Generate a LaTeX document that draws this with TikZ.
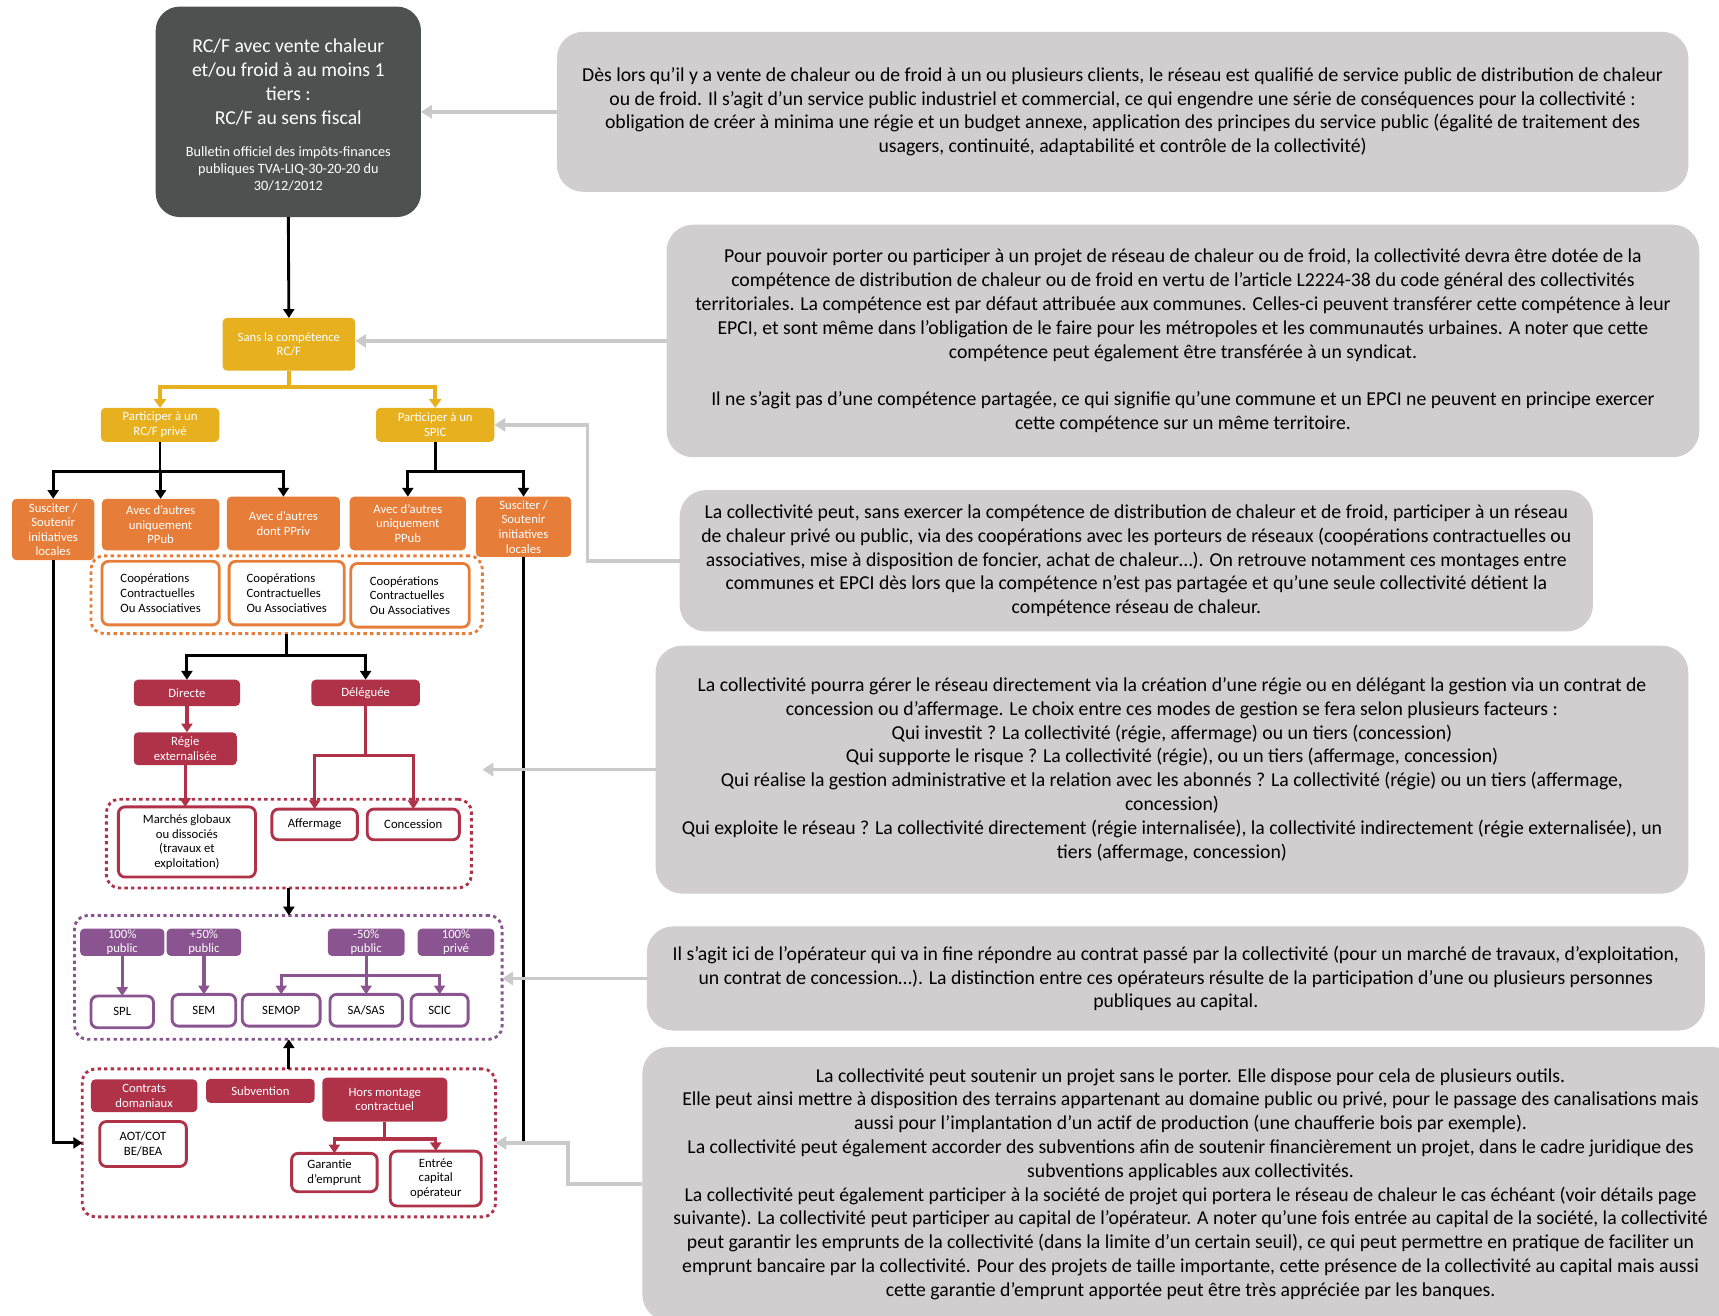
\documentclass[tikz,border=0pt]{standalone}
\usepackage{fontspec}
\setmainfont{Carlito}
\usetikzlibrary{arrows.meta}
\definecolor{darkbox}{HTML}{4F5150}
\definecolor{lgray}{HTML}{D0CECE}
\definecolor{garrow}{HTML}{CACACA}
\definecolor{yel}{HTML}{E6B01E}
\definecolor{org}{HTML}{E67E3A}
\definecolor{crim}{HTML}{B03249}
\definecolor{purp}{HTML}{895490}
\newcommand\fsm{\fontsize{11.6}{13.3}\selectfont}
\newcommand\fgr{\fontsize{18}{21.7}\selectfont}
\begin{document}
\begin{tikzpicture}[x=1pt,y=-1pt,
  sz/.style 2 args={minimum width=#1pt, minimum height=#2pt},
  box/.style={inner sep=0pt, outer sep=0pt, align=center, font=\fsm, text=white, rounded corners=4pt},
  yb/.style={box, fill=yel},
  ob/.style={box, fill=org},
  cb/.style={box, fill=crim},
  pb/.style={box, fill=purp},
  wb/.style={box, fill=white, text=black, line width=2.6pt, rounded corners=6pt},
  owb/.style={wb, draw=org},
  cwb/.style={wb, draw=crim},
  pwb/.style={wb, draw=purp},
  cont/.style={inner sep=0pt, outer sep=0pt, line width=2.6pt, dash pattern=on 3pt off 3pt, rounded corners=12pt},
  gb/.style={inner sep=0pt, outer sep=0pt, fill=lgray, rounded corners=24pt, align=center, font=\fgr, text=black},
  barr/.style={draw=black, line width=2.6pt, -{Triangle[width=10pt,length=8pt]}},
  bline/.style={draw=black, line width=2.6pt},
  yarr/.style={draw=yel, line width=3.5pt, -{Triangle[width=11pt,length=8pt]}},
  carr/.style={draw=crim, line width=3pt, -{Triangle[width=10pt,length=8pt]}},
  parr/.style={draw=purp, line width=3pt, -{Triangle[width=10pt,length=8pt]}},
  garr/.style={draw=garrow, line width=3.2pt, -{Triangle[width=12pt,length=10pt]}}
]
\useasboundingbox (0,0) rectangle (1568,1200);

% ---------- gray explanation boxes ----------
\node[gb, sz={1032}{146}] (g1) at (1024,102) {Dès lors qu’il y a vente de chaleur ou de froid à un ou plusieurs clients, le réseau est qualifié de service public de distribution de chaleur\\ ou de froid. Il s’agit d’un service public industriel et commercial, ce qui engendre une série de conséquences pour la collectivité :\\ obligation de créer à minima une régie et un budget annexe, application des principes du service public (égalité de traitement des\\ usagers, continuité, adaptabilité et contrôle de la collectivité)};

\node[gb, sz={942}{212}] (g2) at (1079,311) {Pour pouvoir porter ou participer à un projet de réseau de chaleur ou de froid, la collectivité devra être dotée de la\\ compétence de distribution de chaleur ou de froid en vertu de l’article L2224-38 du code général des collectivités\\ territoriales. La compétence est par défaut attribuée aux communes. Celles-ci peuvent transférer cette compétence à leur\\ EPCI, et sont même dans l’obligation de le faire pour les métropoles et les communautés urbaines. A noter que cette\\ compétence peut également être transférée à un syndicat.\\[21.7pt] Il ne s’agit pas d’une compétence partagée, ce qui signifie qu’une commune et un EPCI ne peuvent en principe exercer\\ cette compétence sur un même territoire.};

\node[gb, sz={833}{129}] (g3) at (1036.5,511.5) {La collectivité peut, sans exercer la compétence de distribution de chaleur et de froid, participer à un réseau\\ de chaleur privé ou public, via des coopérations avec les porteurs de réseaux (coopérations contractuelles ou\\ associatives, mise à disposition de foncier, achat de chaleur…). On retrouve notamment ces montages entre\\ communes et EPCI dès lors que la compétence n’est pas partagée et qu’une seule collectivité détient la\\ compétence réseau de chaleur.};

\node[gb, sz={942}{226}] (g5) at (1069,702) {La collectivité pourra gérer le réseau directement via la création d’une régie ou en délégant la gestion via un contrat de\\ concession ou d’affermage. Le choix entre ces modes de gestion se fera selon plusieurs facteurs :\\ Qui investit ? La collectivité (régie, affermage) ou un tiers (concession)\\ Qui supporte le risque ? La collectivité (régie), ou un tiers (affermage, concession)\\ Qui réalise la gestion administrative et la relation avec les abonnés ? La collectivité (régie) ou un tiers (affermage,\\ concession)\\ Qui exploite le réseau ? La collectivité directement (régie internalisée), la collectivité indirectement (régie externalisée), un\\ tiers (affermage, concession)};

\node[gb, sz={965}{95}] (g6) at (1072.5,892.5) {Il s’agit ici de l’opérateur qui va in fine répondre au contrat passé par la collectivité (pour un marché de travaux, d’exploitation,\\ un contrat de concession…). La distinction entre ces opérateurs résulte de la participation d’une ou plusieurs personnes\\ publiques au capital.};

\node[gb, sz={1000}{250}] (g7) at (1086,1080) {La collectivité peut soutenir un projet sans le porter. Elle dispose pour cela de plusieurs outils.\\ Elle peut ainsi mettre à disposition des terrains appartenant au domaine public ou privé, pour le passage des canalisations mais\\ aussi pour l’implantation d’un actif de production (une chaufferie bois par exemple).\\ La collectivité peut également accorder des subventions afin de soutenir financièrement un projet, dans le cadre juridique des\\ subventions applicables aux collectivités.\\ La collectivité peut également participer à la société de projet qui portera le réseau de chaleur le cas échéant (voir détails page\\ suivante). La collectivité peut participer au capital de l’opérateur. A noter qu’une fois entrée au capital de la société, la collectivité\\ peut garantir les emprunts de la collectivité (dans la limite d’un certain seuil), ce qui peut permettre en pratique de faciliter un\\ emprunt bancaire par la collectivité. Pour des projets de taille importante, cette présence de la collectivité au capital mais aussi\\ cette garantie d’emprunt apportée peut être très appréciée par les banques.};

% ---------- dark top box ----------
\node[inner sep=0pt, outer sep=0pt, fill=darkbox, rounded corners=22pt, text=white, sz={242}{192}] (top) at (263,102)
 {\begin{minipage}{240pt}\centering
  \vspace*{6pt}
  \fontsize{18}{21.7}\selectfont RC/F avec vente chaleur\\ et/ou froid à au moins 1\\ tiers :\\ RC/F au sens fiscal\par
  \vspace{14pt}
  \fontsize{13}{15.5}\selectfont Bulletin officiel des impôts-finances\\ publiques TVA-LIQ-30-20-20 du\\ 30/12/2012\par
  \end{minipage}};

% ---------- yellow ----------
\node[yb, sz={121}{48}] (sans) at (263.5,314) {Sans la compétence\\RC/F};
\node[yb, sz={108}{31}] (prc) at (146,387.5) {Participer à un\\RC/F privé};
\node[yb, sz={108}{31}] (pspic) at (397,387.5) {Participer à un\\SPIC};

% ---------- orange ----------
\node[ob, sz={75}{56}] (s1) at (48.5,483) {Susciter /\\Soutenir\\initiatives\\locales};
\node[ob, sz={107}{47}] (a1) at (146.5,478.5) {Avec d’autres\\uniquement\\PPub};
\node[ob, sz={103}{49}] (a2) at (258.5,477.5) {Avec d’autres\\dont PPriv};
\node[ob, sz={106}{49}] (a3) at (372,477.5) {Avec d’autres\\uniquement\\PPub};
\node[ob, sz={87}{55}] (s2) at (477.5,480.5) {Susciter /\\Soutenir\\initiatives\\locales};

\node[cont, draw=org, sz={357}{71}] (ocont) at (261.5,542.5) {};
\node[owb, sz={107}{58}, align=left] (c1) at (146.5,541) {Coopérations\\Contractuelles\\Ou Associatives};
\node[owb, sz={105}{58}, align=left] (c2) at (261.5,541) {Coopérations\\Contractuelles\\Ou Associatives};
\node[owb, sz={108}{58}, align=left] (c3) at (374,543) {Coopérations\\Contractuelles\\Ou Associatives};

% ---------- crimson ----------
\node[cb, sz={97}{24}] (dir) at (170.5,632) {Directe};
\node[cb, sz={99}{24}] (del) at (333.5,632) {Déléguée};
\node[cb, sz={94}{30}] (regie) at (169,683) {Régie\\externalisée};

\node[cont, draw=crim, sz={333}{81}] (ccont) at (263.5,769.5) {};
\node[cwb, sz={125}{64}] (march) at (170.5,768) {Marchés globaux\\ou dissociés\\(travaux et\\exploitation)};
\node[cwb, sz={78}{28}] (aff) at (287,752) {Affermage};
\node[cwb, sz={84}{28}] (conc) at (377,752) {Concession};

% ---------- purple ----------
\node[cont, draw=purp, sz={390}{113}] (pcont) at (263,891.5) {};
\node[pb, sz={77}{25}] (p100) at (111.5,859.5) {100\%\\public};
\node[pb, sz={68}{25}] (p50) at (186,859.5) {+50\%\\public};
\node[pb, sz={70}{25}] (pm50) at (334,859.5) {-50\%\\public};
\node[pb, sz={70}{25}] (ppriv) at (416,859.5) {100\%\\privé};
\node[pwb, sz={57}{29}] (spl) at (111.5,923) {SPL};
\node[pwb, sz={58}{29}] (sem) at (186,921.5) {SEM};
\node[pwb, sz={71}{29}] (semop) at (256.5,921.5) {SEMOP};
\node[pwb, sz={66}{29}] (sas) at (334,921.5) {SA/SAS};
\node[pwb, sz={52}{29}] (scic) at (401,921.5) {SCIC};

% ---------- bottom crimson ----------
\node[cont, draw=crim, sz={377}{135}] (bcont) at (263.5,1042.5) {};
\node[cb, sz={97}{30}] (contr) at (131.5,999.5) {Contrats\\domaniaux};
\node[cb, sz={99}{22}] (subv) at (237.5,995) {Subvention};
\node[cb, sz={114}{40}] (hors) at (351,1003) {Hors montage\\contractuel};
\node[cwb, sz={79}{41}] (aot) at (130.5,1043.5) {AOT/COT\\BE/BEA};
\node[cwb, sz={78}{35}, align=left] (gar) at (305,1069.5) {Garantie\\d’emprunt};
\node[cwb, sz={83}{50}] (entr) at (397.5,1075) {Entrée\\capital\\opérateur};

% ---------- connectors ----------
\draw[barr] (top.south) -- (sans.north);
\draw[yarr] (sans.south) -- ++(0,15) -| (prc.north);
\draw[yarr] (sans.south) -- ++(0,15) -| (pspic.north);

\draw[barr] (prc.south) -- ++(0,27) -| (s1.north);
\draw[barr] (prc.south) -- ++(0,27) -| (a1.north);
\draw[barr] (prc.south) -- ++(0,27) -| (a2.north);
\draw[barr] (pspic.south) -- ++(0,27) -| (a3.north);
\draw[barr] (pspic.south) -- ++(0,27) -| (s2.north);

\draw[barr] (ocont.south) -- ++(0,20) -| (dir.north);
\draw[barr] (ocont.south) -- ++(0,20) -| (del.north);

\draw[carr] (dir.south) -- (dir.south |- regie.north);
\draw[carr] (regie.south) -- (regie.south |- march.north);
\draw[carr] (del.south) -- ++(0,45) -| (aff.north);
\draw[carr] (del.south) -- ++(0,45) -| (conc.north);

\draw[barr] (ccont.south) -- (ccont.south |- pcont.north);

\draw[parr] (p100.south) -- (spl.north);
\draw[parr] (p50.south) -- (sem.north);
\draw[parr] (pm50.south) -- ++(0,18) -| (semop.north);
\draw[parr] (pm50.south) -- (sas.north);
\draw[parr] (pm50.south) -- ++(0,18) -| (scic.north);

\draw[barr] (bcont.north) -- (bcont.north |- pcont.south);

\draw[carr] (hors.south) -- ++(0,16) -| (gar.north);
\draw[carr] (hors.south) -- ++(0,16) -| (entr.north);

\draw[barr] (s1.south) |- (bcont.west);
\draw[bline] (s2.south) -- (s2.south |- bcont.east);

% gray connectors
\draw[garr] (g1.west) -- (g1.west -| top.east);
\draw[garr] (g2.west) -- (g2.west -| sans.east);
\draw[garr] (g3.west) -- ++(-84,0) |- (pspic.east);
\draw[garr] (g5.west) -- ([xshift=10pt]g5.west -| ccont.east);
\draw[garr] (g6.west) -- (g6.west -| pcont.east);
\draw[garr] (g7.west) -- ++(-68,0) |- (bcont.east);
\end{tikzpicture}
\end{document}
